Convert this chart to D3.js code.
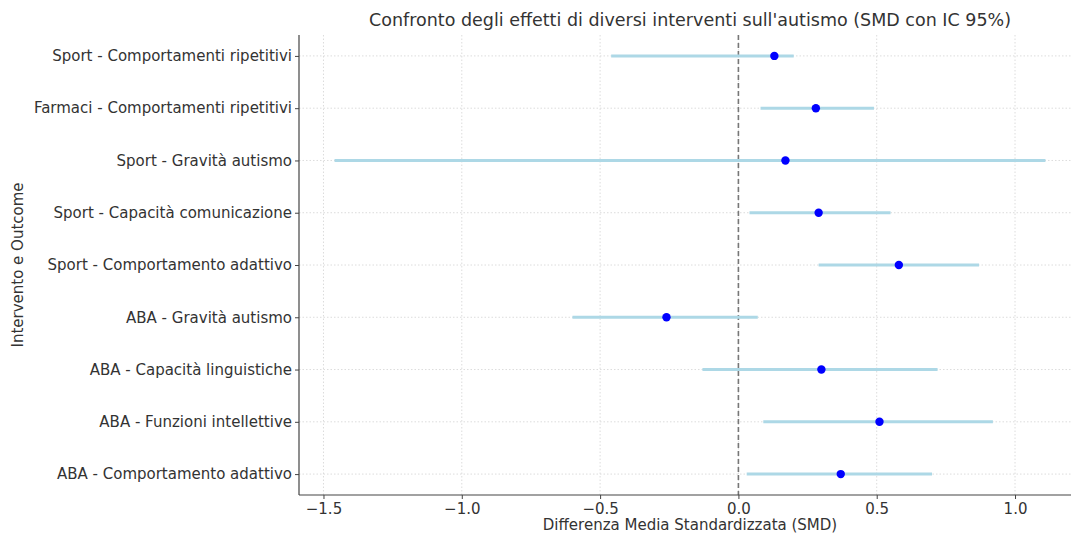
<!DOCTYPE html>
<html>
<head>
<meta charset="utf-8">
<script src="https://cdn.jsdelivr.net/npm/d3@7"></script>
<style>
  body { margin: 0; background: #fff; }
  text { font-family: "DejaVu Sans", sans-serif; fill: #333; }
</style>
</head>
<body>
<div id="chart"></div>
<script>
// rows from bottom to top
const labels = [
  "ABA - Comportamento adattivo",
  "ABA - Funzioni intellettive",
  "ABA - Capacità linguistiche",
  "ABA - Gravità autismo",
  "Sport - Comportamento adattivo",
  "Sport - Capacità comunicazione",
  "Sport - Gravità autismo",
  "Farmaci - Comportamenti ripetitivi",
  "Sport - Comportamenti ripetitivi"
]
const smd   = [0.37, 0.51, 0.30, -0.26, 0.58, 0.29, 0.17, 0.28, 0.13]
const lower = [0.03, 0.09, -0.13, -0.60, 0.29, 0.04, -1.46, 0.08, -0.46]
const upper = [0.70, 0.92, 0.72, 0.07, 0.87, 0.55, 1.11, 0.49, 0.20]
const xTicks = [-1.5, -1.0, -0.5, 0.0, 0.5, 1.0]

const width = 1071
const height = 533
const margins = { top: 35, bottom: 38, left: 299, right: -10 }

const data = labels.map((l, i) => ({ label: l, smd: smd[i], lo: lower[i], hi: upper[i], i: i }))

const svg = d3.select("#chart")
  .append("svg")
  .attr("width", width)
  .attr("height", height)

const xMin = d3.min(lower), xMax = d3.max(upper)
const pad = (xMax - xMin) * 0.05
const xScale = d3.scaleLinear()
  .domain([xMin - pad, xMax + pad])
  .range([margins.left, width - margins.right])

const yScale = d3.scaleLinear()
  .domain([-0.4, labels.length - 1 + 0.4])
  .range([height - margins.bottom, margins.top])

// grid
svg.append("g")
  .selectAll("line.vgrid")
  .data(xTicks)
  .join("line")
  .attr("class", "vgrid")
  .attr("x1", d => xScale(d))
  .attr("x2", d => xScale(d))
  .attr("y1", margins.top)
  .attr("y2", height - margins.bottom)
  .attr("stroke", "#dcdcdc")
  .attr("stroke-dasharray", "1.5,2")

svg.append("g")
  .selectAll("line.hgrid")
  .data(data)
  .join("line")
  .attr("class", "hgrid")
  .attr("x1", margins.left)
  .attr("x2", width)
  .attr("y1", d => yScale(d.i))
  .attr("y2", d => yScale(d.i))
  .attr("stroke", "#dcdcdc")
  .attr("stroke-dasharray", "1.5,2")

// zero line
svg.append("line")
  .attr("x1", xScale(0))
  .attr("x2", xScale(0))
  .attr("y1", margins.top)
  .attr("y2", height - margins.bottom)
  .attr("stroke", "#777")
  .attr("stroke-width", 1.6)
  .attr("stroke-dasharray", "5,3")

// CI lines
svg.selectAll("line.ci")
  .data(data)
  .join("line")
  .attr("class", "ci")
  .attr("x1", d => xScale(d.lo))
  .attr("x2", d => xScale(d.hi))
  .attr("y1", d => yScale(d.i))
  .attr("y2", d => yScale(d.i))
  .attr("stroke", "#add8e6")
  .attr("stroke-width", 3)

svg.selectAll("circle")
  .data(data)
  .join("circle")
  .attr("cx", d => xScale(d.smd))
  .attr("cy", d => yScale(d.i))
  .attr("r", 4.2)
  .attr("fill", "#0000ff")

// axes
const xAxis = d3.axisBottom(xScale)
  .tickValues(xTicks)
  .tickFormat(d => d3.format(".1f")(d).replace("-", "\u2212"))
  .tickSize(4)
  .tickPadding(4)
const gx = svg.append("g")
  .attr("transform", `translate(0,${height - margins.bottom})`)
  .call(xAxis)
gx.select(".domain").attr("stroke", "#444").attr("stroke-width", 1.2).attr("d", `M${margins.left},0H${width}`)
gx.selectAll(".tick line").attr("stroke", "#444")
gx.selectAll(".tick text").attr("font-size", 15).style("fill", "#333")

const yAxis = d3.axisLeft(yScale)
  .tickValues(data.map(d => d.i))
  .tickFormat(i => labels[i])
  .tickSize(4)
  .tickPadding(3)
const gy = svg.append("g")
  .attr("transform", `translate(${margins.left},0)`)
  .call(yAxis)
gy.select(".domain").attr("stroke", "#444").attr("stroke-width", 1.2)
  .attr("d", `M0,${margins.top}V${height - margins.bottom}`)
gy.selectAll(".tick line").attr("stroke", "#444")
gy.selectAll(".tick text").attr("font-size", 15).style("fill", "#333")

// titles
svg.append("text")
  .attr("x", (margins.left + 1081) / 2)
  .attr("y", 26)
  .attr("text-anchor", "middle")
  .attr("font-size", 17.5)
  .text("Confronto degli effetti di diversi interventi sull'autismo (SMD con IC 95%)")

svg.append("text")
  .attr("x", (margins.left + 1081) / 2)
  .attr("y", 530)
  .attr("text-anchor", "middle")
  .attr("font-size", 15)
  .text("Differenza Media Standardizzata (SMD)")

svg.append("text")
  .attr("transform", `translate(23,${(margins.top + height - margins.bottom) / 2}) rotate(-90)`)
  .attr("text-anchor", "middle")
  .attr("font-size", 15)
  .text("Intervento e Outcome")
</script>
</body>
</html>
